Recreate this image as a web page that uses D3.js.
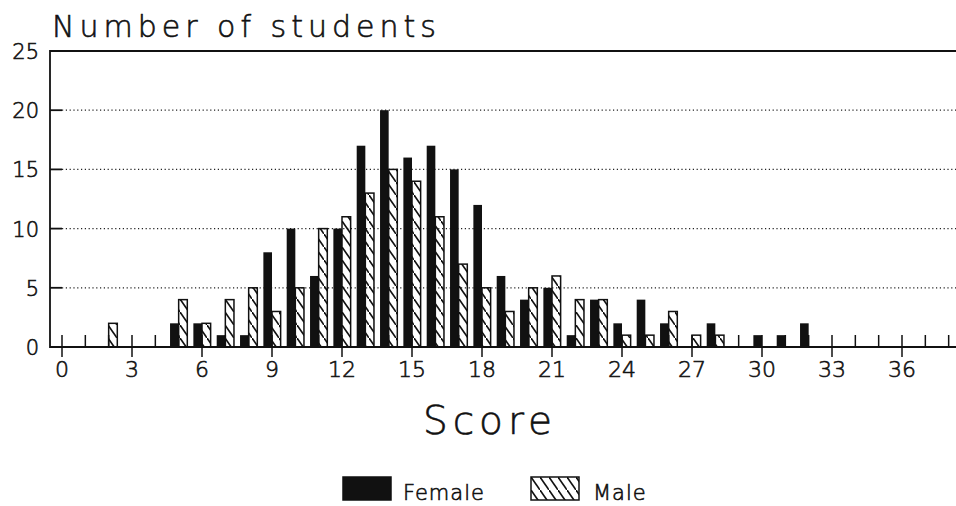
<!DOCTYPE html>
<html>
<head>
<meta charset="utf-8">
<script src="https://cdn.jsdelivr.net/npm/d3@7"></script>
<style>
  body { margin: 0; background: #fff; }
  text { font-family: "DejaVu Sans", sans-serif; font-weight: 200; fill: #111; stroke: #111; stroke-width: 0.6; }
</style>
</head>
<body>
<div id="chart"></div>
<script>
// scores 0..32, counts
const scores = d3.range(0, 33);
const female = [0,0,0,0,0,2,2,1,1,8,10,6,10,17,20,16,17,15,12,6,4,5,1,4,2,4,2,0,2,0,1,1,2];
const male   = [0,0,2,0,0,4,2,4,5,3,5,10,11,13,15,14,11,7,5,3,5,6,4,4,1,1,3,1,1,0,0,0,0];
const xTicks = d3.range(0, 39);
const xLabels = d3.range(0, 37, 3);
const yTicks = [0, 5, 10, 15, 20, 25];
const legendItems = ["Female", "Male"];

const W = 956, H = 506;
const plotL = 50, plotR = 956, plotT = 51, plotB = 347;

const svg = d3.select("#chart").append("svg")
    .attr("width", W)
    .attr("height", H);

// hatch for male bars
svg.append("defs").append("pattern")
    .attr("id", "hatch")
    .attr("patternUnits", "userSpaceOnUse")
    .attr("width", 9)
    .attr("height", 13)
    .append("path")
    .attr("d", "M-9,-13 L18,26")
    .attr("stroke", "#111")
    .attr("stroke-width", 1.6);

const x = d3.scaleLinear().domain([0, 36]).range([62, 902]);
const y = d3.scaleLinear().domain([0, 25]).range([plotB, plotT]);
const bw = x(0.37) - x(0);

// grid lines
svg.selectAll(".grid")
    .data(yTicks.filter(d => d > 0 && d < 25))
    .enter().append("line")
    .attr("x1", plotL + 12).attr("x2", plotR)
    .attr("y1", d => y(d)).attr("y2", d => y(d))
    .attr("stroke", "#222")
    .attr("stroke-width", 1.2)
    .attr("stroke-dasharray", "1.2,2.6");

// frame
svg.append("path")
    .attr("d", `M${plotR},${plotT} H${plotL} V${plotB} H${plotR}`)
    .attr("fill", "none")
    .attr("stroke", "#111")
    .attr("stroke-width", 1.8);

// y ticks + labels
svg.selectAll(".ytick")
    .data(yTicks.filter(d => d > 0 && d < 25))
    .enter().append("line")
    .attr("x1", plotL).attr("x2", plotL + 12)
    .attr("y1", d => y(d)).attr("y2", d => y(d))
    .attr("stroke", "#111").attr("stroke-width", 1.8);

svg.selectAll(".ylab")
    .data(yTicks)
    .enter().append("text")
    .attr("x", 39)
    .attr("y", d => y(d) + 8)
    .attr("text-anchor", "end")
    .attr("font-size", 21)
    .text(d => d);

// x ticks
svg.selectAll(".xtick")
    .data(xTicks)
    .enter().append("line")
    .attr("x1", d => x(d)).attr("x2", d => x(d))
    .attr("y1", plotB - 12)
    .attr("y2", d => d % 3 === 0 ? plotB + 10 : plotB)
    .attr("stroke", "#111").attr("stroke-width", 1.5);

svg.selectAll(".xlab")
    .data(xLabels)
    .enter().append("text")
    .attr("x", d => x(d))
    .attr("y", 377)
    .attr("text-anchor", "middle")
    .attr("font-size", 22)
    .text(d => d);

// bars
svg.selectAll(".female")
    .data(scores.filter(s => female[s] > 0))
    .enter().append("rect")
    .attr("x", s => x(s) - bw)
    .attr("y", s => y(female[s]))
    .attr("width", bw)
    .attr("height", s => plotB - y(female[s]))
    .attr("fill", "#111");

svg.selectAll(".male")
    .data(scores.filter(s => male[s] > 0))
    .enter().append("rect")
    .attr("x", s => x(s))
    .attr("y", s => y(male[s]))
    .attr("width", bw)
    .attr("height", s => plotB - y(male[s]))
    .attr("fill", "url(#hatch)")
    .attr("stroke", "#111")
    .attr("stroke-width", 1.5);

// titles
svg.append("text")
    .attr("x", 52).attr("y", 37)
    .attr("font-size", 30)
    .attr("letter-spacing", 5)
    .text("Number of students");

svg.append("text")
    .attr("x", 490).attr("y", 434)
    .attr("text-anchor", "middle")
    .attr("font-size", 39)
    .attr("letter-spacing", 5)
    .text("Score");

// legend
const lg = svg.selectAll(".legend")
    .data(legendItems)
    .enter().append("g")
    .attr("transform", (d, i) => `translate(${i === 0 ? 343 : 531},477)`);

lg.append("rect")
    .attr("width", 48).attr("height", 23)
    .attr("fill", (d, i) => i === 0 ? "#111" : "url(#hatch)")
    .attr("stroke", "#111")
    .attr("stroke-width", 1.5);

lg.append("text")
    .attr("x", (d, i) => i === 0 ? 60 : 62)
    .attr("y", 23)
    .attr("font-size", 21)
    .attr("letter-spacing", 1)
    .text(d => d);
</script>
</body>
</html>
